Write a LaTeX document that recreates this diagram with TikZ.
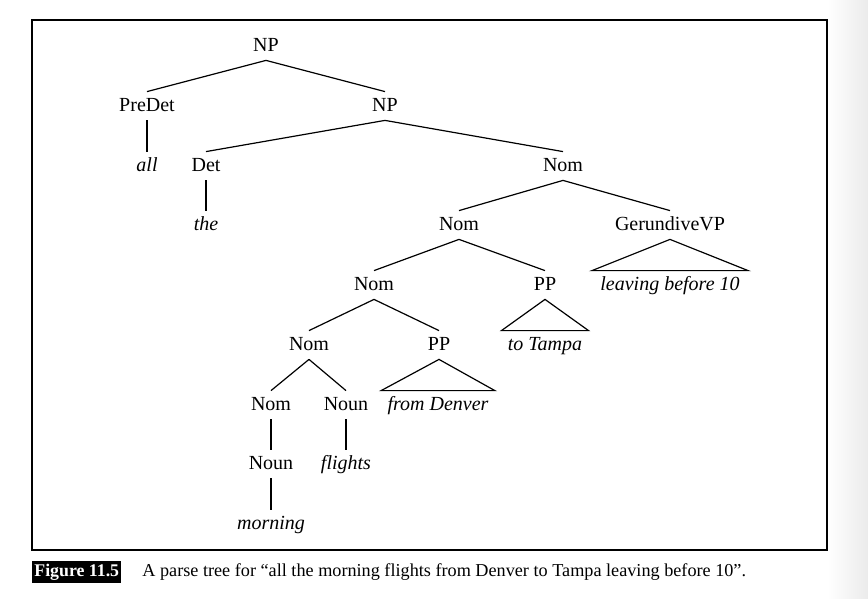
\documentclass[tikz,border=0pt]{standalone}
\usepackage{fontspec}
\setmainfont{Liberation Serif}
\usepackage{tikz}
\usetikzlibrary{positioning}

\begin{document}
\begin{tikzpicture}[
    x=0.5pt, y=-0.5pt,
    cat/.style={inner sep=0pt, minimum height=14pt, text height=1.5ex, text depth=0.3ex},
    word/.style={cat, font=\itshape},
    phrase/.style={word, inner xsep=3pt},
    branch/.style={line width=0.6pt},
    frame/.style={line width=0.8pt}
]
    \useasboundingbox (0,0) rectangle (868,599);
    % page shading on the right
    \shade[left color=white, right color=black!8, draw=none] (827,0) rectangle (868,599);

    % Frame
    \draw[frame] (32,20) rectangle (827,550);

    % Top level
    \node[cat] (np) at (266,46) {NP};
    \node[cat] (predet) at (147,106) {PreDet};
    \node[cat] (np2) at (385,106) {NP};
    \draw[branch] (np.south) -- (predet.north);
    \draw[branch] (np.south) -- (np2.north);

    % all
    \node[word] (all) at (147,166) {all};
    \draw[branch] (predet.south) -- (all.north);

    % Det and Nom
    \node[cat] (det) at (206,166) {Det};
    \node[cat] (nom1) at (563,166) {Nom};
    \draw[branch] (np2.south) -- (det.north);
    \draw[branch] (np2.south) -- (nom1.north);
    \node[word] (the) at (206,225) {the};
    \draw[branch] (det.south) -- (the.north);

    % Nom -> Nom GerundiveVP
    \node[cat] (nom2) at (459,225) {Nom};
    \node[cat] (gervp) at (670,225) {GerundiveVP};
    \draw[branch] (nom1.south) -- (nom2.north);
    \draw[branch] (nom1.south) -- (gervp.north);
    \node[phrase, inner xsep=4pt] (leaving) at (670,285) {leaving before 10};
    \draw[branch] (gervp.south) -- (leaving.north west) -- (leaving.north east) -- cycle;

    % Nom -> Nom PP
    \node[cat] (nom3) at (374,285) {Nom};
    \node[cat] (pp1) at (545,285) {PP};
    \draw[branch] (nom2.south) -- (nom3.north);
    \draw[branch] (nom2.south) -- (pp1.north);
    \node[phrase] (tampa) at (545,345) {to Tampa};
    \draw[branch] (pp1.south) -- (tampa.north west) -- (tampa.north east) -- cycle;

    % Nom -> Nom PP
    \node[cat] (nom4) at (309,345) {Nom};
    \node[cat] (pp2) at (439,345) {PP};
    \draw[branch] (nom3.south) -- (nom4.north);
    \draw[branch] (nom3.south) -- (pp2.north);
    \node[phrase] (denver) at (438,405) {from Denver};
    \draw[branch] (pp2.south) -- (denver.north west) -- (denver.north east) -- cycle;

    % Nom -> Nom Noun
    \node[cat] (nom5) at (271,405) {Nom};
    \node[cat] (noun1) at (346,405) {Noun};
    \draw[branch] (nom4.south) -- (nom5.north);
    \draw[branch] (nom4.south) -- (noun1.north);
    \node[word] (flights) at (346,464) {flights};
    \draw[branch] (noun1.south) -- (flights.north);

    \node[cat] (noun2) at (271,464) {Noun};
    \draw[branch] (nom5.south) -- (noun2.north);
    \node[word] (morning) at (271,524) {morning};
    \draw[branch] (noun2.south) -- (morning.north);

    % Caption
    \node[fill=black, text=white, font=\fontsize{8.9}{10}\selectfont\bfseries,
          inner xsep=1pt, inner ysep=1.5pt, anchor=west] (figlabel) at (32,572) {Figure 11.5};
    \node[anchor=west, inner sep=0pt, font=\fontsize{9.1}{11}\selectfont] (caption) at (142,572)
        {A parse tree for “all the morning flights from Denver to Tampa leaving before 10”.};
\end{tikzpicture}
\end{document}
